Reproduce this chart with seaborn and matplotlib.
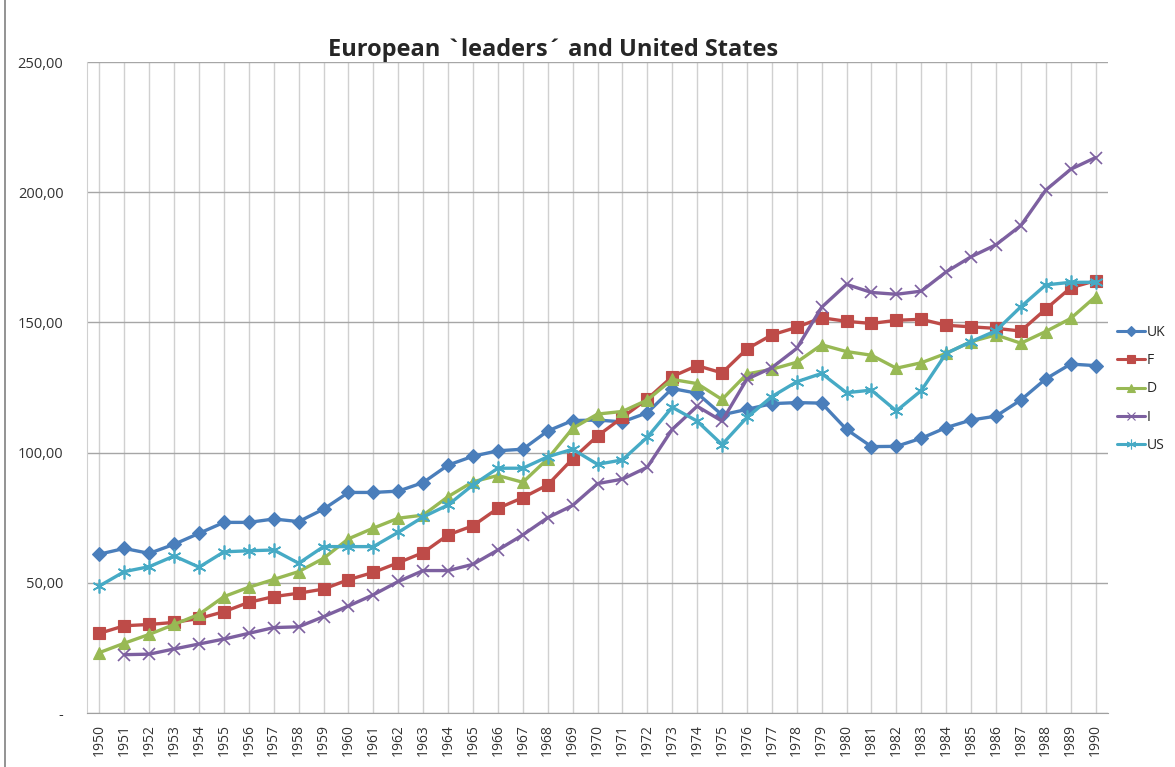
import numpy as np
import pandas as pd
import seaborn as sns
import matplotlib.pyplot as plt
from matplotlib.lines import Line2D
from matplotlib.ticker import FixedLocator, FuncFormatter

years = list(range(1950, 1991))

uk = [61.0, 63.2, 61.3, 64.8, 69.0, 73.2, 73.2, 74.5, 73.5, 78.3,
      84.7, 84.7, 85.2, 88.5, 95.2, 98.6, 100.7, 101.3, 108.3, 112.3,
      112.5, 111.8, 115.3, 124.6, 122.8, 114.5, 116.6, 118.8, 119.2, 119.0,
      108.9, 102.3, 102.4, 105.5, 109.6, 112.5, 114.0, 120.2, 128.3, 134.0, 133.4]
fr = [30.6, 33.5, 34.0, 34.8, 36.3, 38.9, 42.5, 44.7, 46.0, 47.6,
      51.2, 54.0, 57.7, 61.6, 68.4, 71.9, 78.6, 82.7, 87.6, 97.6,
      106.4, 113.5, 120.6, 129.2, 133.4, 130.6, 139.8, 145.2, 148.1, 151.8,
      150.4, 149.6, 150.8, 151.2, 148.9, 148.3, 147.7, 146.7, 155.1, 163.3, 166.0]
de = [23.2, 26.8, 30.2, 34.0, 37.9, 44.7, 48.3, 51.3, 54.3, 59.4,
      66.9, 71.0, 74.8, 76.0, 83.1, 88.8, 91.2, 88.6, 97.6, 109.3,
      114.8, 115.8, 120.2, 128.1, 126.5, 120.4, 130.2, 132.0, 134.7, 141.4,
      138.8, 137.4, 132.4, 134.5, 138.1, 142.6, 145.2, 142.0, 146.5, 151.5, 159.9]
it = [np.nan, 22.4, 22.6, 24.6, 26.5, 28.4, 30.6, 32.8, 33.1, 37.0,
      41.1, 45.4, 50.5, 54.7, 54.7, 57.1, 62.6, 68.4, 75.0, 79.7,
      88.1, 89.8, 94.4, 108.9, 117.8, 112.1, 128.2, 132.6, 140.0, 155.8,
      164.6, 161.5, 160.8, 162.0, 169.4, 175.2, 179.8, 187.2, 200.8, 208.8, 213.3]
us = [48.8, 54.3, 56.2, 60.3, 56.0, 61.9, 62.3, 62.6, 57.5, 63.9,
      63.9, 63.9, 69.4, 75.3, 79.9, 87.6, 94.0, 94.0, 98.4, 101.3,
      95.5, 97.2, 105.9, 117.4, 112.1, 103.1, 113.5, 121.5, 127.2, 130.4,
      123.0, 124.0, 116.0, 123.8, 138.1, 142.6, 146.8, 156.0, 164.4, 165.4, 165.4]

series = ["UK", "F", "D", "I", "US"]
colors = {"UK": "#4A7EBB", "F": "#BE4B48", "D": "#98B954", "I": "#7D60A0", "US": "#46AAC5"}
markers = {"UK": "D", "F": "s", "D": "^", "I": "x", "US": (6, 2, 0)}
msizes = {"UK": 7.5, "F": 8.5, "D": 9, "I": 9, "US": 10}

df = pd.DataFrame({"year": years, "UK": uk, "F": fr, "D": de, "I": it, "US": us})
long = df.melt(id_vars="year", var_name="country", value_name="value")

sns.set_style("white")
plt.rcParams['font.family'] = ['Open Sans', 'DejaVu Sans']

fig = plt.figure(figsize=(11.75, 7.67), dpi=100)
ax = fig.add_axes([87 / 1175, 54 / 767, 1021 / 1175, 651 / 767])

handles = []
for name in series:
    sub = long[long["country"] == name].dropna()
    sns.lineplot(data=sub, x="year", y="value", ax=ax, color=colors[name],
                 marker=markers[name], markersize=msizes[name], linewidth=2.4,
                 markeredgecolor=colors[name], markeredgewidth=1.2 if name in ("I", "US") else 0.8,
                 legend=False)
    handles.append(Line2D([], [], color=colors[name], marker=markers[name], linewidth=2.2,
                          markersize=msizes[name] * 0.7, markeredgewidth=0.8))

ax.set_xlim(1949.5, 1990.5)
ax.set_ylim(0, 250)
ax.set_xticks(years)
ax.set_xticklabels([str(y) for y in years], rotation=90, fontsize=10, color="#333333")
ax.xaxis.set_minor_locator(FixedLocator([y + 0.5 for y in range(1949, 1991)]))
ax.tick_params(axis="x", which="major", length=0, pad=8)
ax.tick_params(axis="x", which="minor", length=5, color="#a0a0a0", direction="out")
ax.set_yticks([0, 50, 100, 150, 200, 250])
ax.yaxis.set_major_formatter(FuncFormatter(lambda v, p: "-" if v == 0 else f"{v:.2f}".replace(".", ",")))
ax.tick_params(axis="y", length=0, pad=17, labelsize=10.5, labelcolor="#333333")

ax.grid(axis="x", color="#d0d0d0", linewidth=1)
ax.grid(axis="y", color="#a6a6a6", linewidth=1)
ax.set_axisbelow(True)
ax.set_xlabel("")
ax.set_ylabel("")
for s in ["top", "right"]:
    ax.spines[s].set_visible(False)
ax.spines["left"].set_color("#d0d0d0")
ax.spines["bottom"].set_color("#a0a0a0")

fig.legend(handles, series, loc="center left", bbox_to_anchor=(1106 / 1175, 1 - 389 / 767),
           frameon=False, fontsize=10, handlelength=2.0, labelspacing=0.95, handletextpad=0.15,
           borderpad=0.3)

fig.text(553 / 1175, 1 - 50 / 767, "European `leaders\u00b4 and United States",
         ha="center", va="center", fontsize=17, fontweight="bold")
fig.add_artist(Line2D([5 / 1175, 5 / 1175], [0, 1], color="#808080", linewidth=1.2,
                      transform=fig.transFigure))

fig.savefig("out.png", dpi=100)
